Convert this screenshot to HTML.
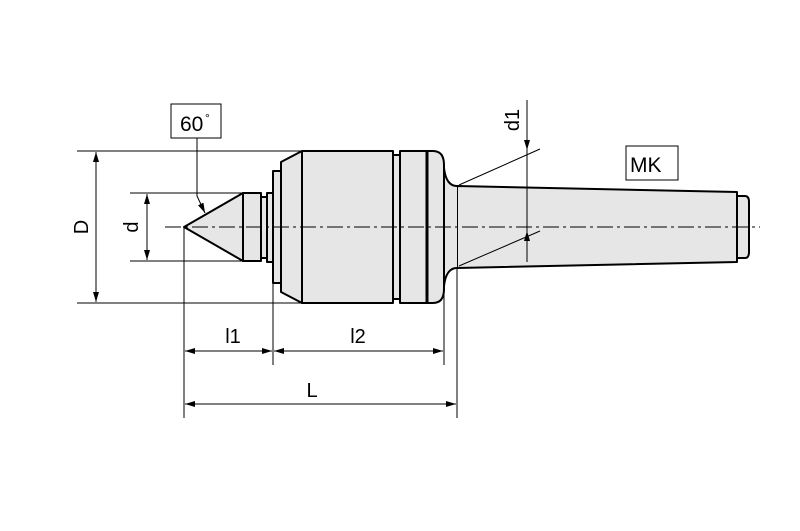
<!DOCTYPE html><html><head><style>body{margin:0;background:#fff}svg{display:block}text{font-family:"Liberation Sans",sans-serif;fill:#000}</style></head><body>
<svg width="800" height="531" viewBox="0 0 800 531" xmlns="http://www.w3.org/2000/svg">
<defs><marker id="a" viewBox="0 0 10 6" refX="10" refY="3" markerWidth="10" markerHeight="6" orient="auto-start-reverse" markerUnits="userSpaceOnUse"><path d="M0,0L10,3L0,6z" fill="#000"/></marker></defs>
<g stroke="#000" stroke-width="1" fill="none">
<line x1="77" y1="151" x2="302" y2="151"/><line x1="77" y1="303" x2="302" y2="303"/>
<line x1="130" y1="193" x2="243" y2="193"/><line x1="130" y1="261" x2="243" y2="261"/>
<line x1="96" y1="152" x2="96" y2="302" marker-start="url(#a)" marker-end="url(#a)"/>
<line x1="147" y1="194" x2="147" y2="260" marker-start="url(#a)" marker-end="url(#a)"/>
<line x1="184" y1="227" x2="184" y2="418"/><line x1="273" y1="283" x2="273" y2="365"/>
<line x1="444" y1="290" x2="444" y2="365"/><line x1="457" y1="268" x2="457" y2="418"/>
<line x1="185" y1="351" x2="272" y2="351" marker-start="url(#a)" marker-end="url(#a)"/>
<line x1="274" y1="351" x2="443" y2="351" marker-start="url(#a)" marker-end="url(#a)"/>
<line x1="185" y1="404" x2="456" y2="404" marker-start="url(#a)" marker-end="url(#a)"/>
<polyline points="197,138 197,196 205,213" marker-end="url(#a)"/>
</g>
<g stroke="#000" stroke-width="2" fill="#e6e6e6" stroke-linejoin="round">
<path d="M457,186 L737,192 L737,262 L457,268 Z"/>
<path d="M737,196 L745,196 Q749,196 749,202 L749,252 Q749,258 745,258 L737,258 Z"/>
<path d="M444,172 Q444,186 457,186 L457,268 Q444,268 444,282 Z" stroke="none"/>
<path d="M444,168 Q446,186 457,186 M444,286 Q446,268 457,268" fill="none"/>
<path d="M184,227 L243,193 L243,261 Z"/>
<rect x="243" y="193" width="18" height="68"/>
<rect x="261" y="197" width="6" height="61"/>
<rect x="267" y="193" width="6" height="69"/>
<rect x="273" y="171" width="8" height="112"/>
<path d="M281,162 L302,151 L302,303 L281,292 Z"/>
<rect x="302" y="151" width="91" height="152"/>
<rect x="393" y="155" width="7" height="144"/>
<rect x="400" y="151" width="27" height="152"/>
<path d="M427,151 L433,151 Q444,151 444,165 L444,289 Q444,303 433,303 L427,303 Z"/>
<line x1="427" y1="151" x2="427" y2="303" stroke-width="3"/>
</g>
<line x1="165" y1="227" x2="760" y2="227" stroke="#000" stroke-width="1" stroke-dasharray="16,4,3,4"/>
<g stroke="#000" stroke-width="1" fill="none">
<line x1="527" y1="100" x2="527" y2="150" marker-end="url(#a)"/>
<line x1="527" y1="262" x2="527" y2="231" marker-end="url(#a)"/>
<line x1="527" y1="150" x2="527" y2="231"/>
<line x1="459" y1="185" x2="540" y2="149"/><line x1="459" y1="266" x2="540" y2="231"/>
</g>
<rect x="171" y="104" width="50" height="34" fill="#fff" stroke="#000"/>
<text x="180" y="131" font-size="21">60</text><text x="205" y="122" font-size="12">°</text>
<rect x="626" y="146" width="52" height="34" fill="#fff" stroke="#000"/>
<text x="630" y="172" font-size="21">MK</text>
<text x="233" y="343" font-size="20" text-anchor="middle">l1</text>
<text x="358" y="343" font-size="20" text-anchor="middle">l2</text>
<text x="312" y="397" font-size="20" text-anchor="middle">L</text>
<text transform="translate(88,227) rotate(-90)" font-size="20" text-anchor="middle">D</text>
<text transform="translate(138,227) rotate(-90)" font-size="20" text-anchor="middle">d</text>
<text transform="translate(519,120) rotate(-90)" font-size="20" text-anchor="middle">d1</text>
</svg></body></html>
